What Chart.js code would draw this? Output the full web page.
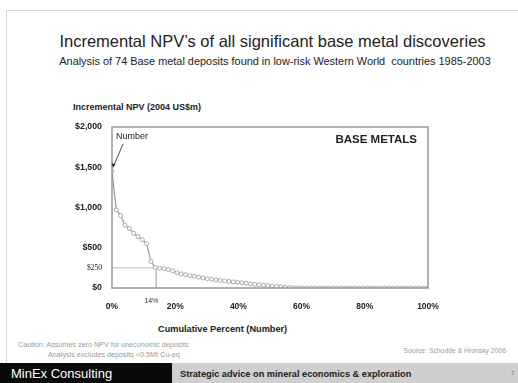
<!DOCTYPE html>
<html>
<head>
<meta charset="utf-8">
<script src="https://cdn.jsdelivr.net/npm/chart.js@4"></script>
<style>
  body { margin:0; width:518px; height:383px; background:#fff; position:relative; overflow:hidden; font-family:"Liberation Sans", Arial, sans-serif; }
  .t { position:absolute; white-space:nowrap; }
  #frameTop { position:absolute; left:6px; top:10px; width:512px; height:1px; background:#d8d8d8; }
  #frameLeft { position:absolute; left:6px; top:10px; width:1px; height:353px; background:#d8d8d8; }
  #title { left:0; width:545px; text-align:center; top:32px; font-size:16.5px; color:#222; }
  #subtitle { left:0; width:550px; text-align:center; top:55px; font-size:10.6px; color:#222; transform:scaleX(1.03); }
  #ytitle { left:73px; top:102px; font-size:9px; font-weight:bold; color:#222; }
  #xtitle { left:158px; top:324px; font-size:9.2px; font-weight:bold; color:#222; }
  #caution { left:18px; top:340px; font-size:7.2px; color:#9a9a9a; }
  #excl { left:48px; top:350px; font-size:7.2px; color:#9a9a9a; }
  #source { right:12px; top:347px; font-size:6.8px; color:#9a9a9a; }
  #footBlack { position:absolute; left:0; top:363px; width:172px; height:20px; background:#0a0a0a; }
  #footGrey { position:absolute; left:172px; top:363px; width:346px; height:20px; background:#cfcfcf; }
  #brand { left:11px; top:366px; font-size:13px; color:#fff; }
  #tagline { left:180px; top:369px; font-size:9.2px; font-weight:bold; color:#222; }
  #page { left:511px; top:370px; font-size:6px; color:#777; }
  canvas { position:absolute; left:0; top:0; }
</style>
</head>
<body>
<div id="frameTop"></div>
<div id="frameLeft"></div>
<div class="t" id="title">Incremental NPV’s of all significant base metal discoveries</div>
<div class="t" id="subtitle">Analysis of 74 Base metal deposits found in low-risk Western World&nbsp; countries 1985-2003</div>
<div class="t" id="ytitle">Incremental NPV (2004 US$m)</div>
<div class="t" id="xtitle">Cumulative Percent (Number)</div>
<div class="t" id="caution">Caution: Assumes zero NPV for uneconomic deposits</div>
<div class="t" id="excl">Analysis excludes deposits &lt;0.5Mt Cu-eq</div>
<div class="t" id="source">Source: Schodde &amp; Hronsky 2006</div>
<div id="footBlack"></div>
<div id="footGrey"></div>
<div class="t" id="brand">MinEx Consulting</div>
<div class="t" id="tagline">Strategic advice on mineral economics &amp; exploration</div>
<div class="t" id="page">7</div>
<canvas id="c" width="518" height="383"></canvas>
<script>
// NPV of each deposit, sorted high to low (US$m, 2004)
var npvValues = [1450, 970, 900, 780, 740, 680, 640, 600, 550, 330,
                 255, 245, 240, 230, 215, 190, 175, 165, 155, 145,
                 135, 125, 115, 110, 100, 95, 88, 82, 76, 72,
                 66, 60, 52, 45, 40, 36, 30, 25, 20, 15,
                 10, 6, 3, 1, 0, 0, 0, 0, 0, 0,
                 0, 0, 0, 0, 0, 0, 0, 0, 0, 0,
                 0, 0, 0, 0, 0, 0, 0, 0, 0, 0,
                 0, 0, 0, 0]
var yTicks = [0, 250, 500, 1000, 1500, 2000]
var xTicks = [0, 20, 40, 60, 80, 100]
var cutPct = 14
var cutNpv = 250

var points = npvValues.map(function(v, i){
  return {x: i * 100 / (npvValues.length - 1), y: v}
})
var cutLine = [{x:0, y:cutNpv}, {x:cutPct, y:cutNpv}, {x:cutPct, y:0}]

var boxPlugin = {
  id: 'box',
  afterDatasetsDraw: function(chart){
    var ctx = chart.ctx, a = chart.chartArea
    var xs = chart.scales.x, ys = chart.scales.y
    ctx.save()
    ctx.strokeStyle = '#999'
    ctx.lineWidth = 1.5
    ctx.strokeRect(a.left, a.top, a.right - a.left, a.bottom - a.top)
    // label for the cut-off
    ctx.fillStyle = '#333'
    ctx.font = '7px "Liberation Sans", Arial'
    ctx.textAlign = 'center'
    ctx.textBaseline = 'middle'
    ctx.fillText(cutPct + '%', xs.getPixelForValue(cutPct) - 5, a.bottom + 13)
    // annotation
    ctx.font = 'bold 11.5px "Liberation Sans", Arial'
    ctx.textAlign = 'right'
    ctx.fillStyle = '#222'
    ctx.fillText('BASE METALS', a.right - 11, a.top + 13)
    ctx.font = '9px "Liberation Sans", Arial'
    ctx.textAlign = 'left'
    ctx.fillText('Number', a.left + 4, a.top + 10)
    var px = xs.getPixelForValue(points[0].x) + 1
    var py = ys.getPixelForValue(points[0].y) - 4
    ctx.strokeStyle = '#222'
    ctx.lineWidth = 0.8
    ctx.beginPath()
    ctx.moveTo(a.left + 11, a.top + 17)
    ctx.lineTo(px, py)
    ctx.stroke()
    ctx.beginPath()
    ctx.moveTo(px, py)
    ctx.lineTo(px - 1.5, py - 4)
    ctx.lineTo(px + 2.5, py - 3)
    ctx.closePath()
    ctx.fill()
    ctx.restore()
  }
}

new Chart(document.getElementById('c'), {
  type: 'scatter',
  data: {
    datasets: [{
      data: points,
      showLine: true,
      borderColor: '#9a9a9a',
      borderWidth: 1.2,
      pointRadius: 2,
      pointBorderWidth: 0.8,
      pointBorderColor: '#9a9a9a',
      pointBackgroundColor: '#fff'
    }, {
      data: cutLine,
      showLine: true,
      borderColor: '#bdbdbd',
      borderWidth: 1,
      pointRadius: 0
    }]
  },
  options: {
    responsive: false,
    animation: false,
    layout: { padding: { left: 0, right: 90, top: 127, bottom: 65 } },
    plugins: { legend: { display: false }, tooltip: { enabled: false } },
    scales: {
      x: {
        type: 'linear', min: 0, max: 100,
        afterBuildTicks: function(s){ s.ticks = xTicks.map(function(v){ return {value:v} }) },
        afterFit: function(s){ s.height = 30 },
        grid: { display: false, drawTicks: false },
        border: { display: false },
        ticks: {
          padding: 14, color: '#222', autoSkip: false,
          font: { family: '"Liberation Sans", Arial', size: 8.5, weight: 'bold' },
          maxRotation: 0,
          callback: function(v){ return v + '%' }
        }
      },
      y: {
        min: 0, max: 2000,
        afterBuildTicks: function(s){ s.ticks = yTicks.map(function(v){ return {value:v} }) },
        afterFit: function(s){ s.width = 112 },
        grid: { display: false, drawTicks: false },
        border: { display: false },
        ticks: {
          padding: 10, color: '#222', autoSkip: false,
          font: function(c){
            return c.tick && c.tick.value === 250
              ? { family: '"Liberation Serif", serif', size: 7.5 }
              : { family: '"Liberation Sans", Arial', size: 8.8, weight: 'bold' }
          },
          callback: function(v){ return '$' + v.toLocaleString('en-US') }
        }
      }
    }
  },
  plugins: [boxPlugin]
})
</script>
</body>
</html>
